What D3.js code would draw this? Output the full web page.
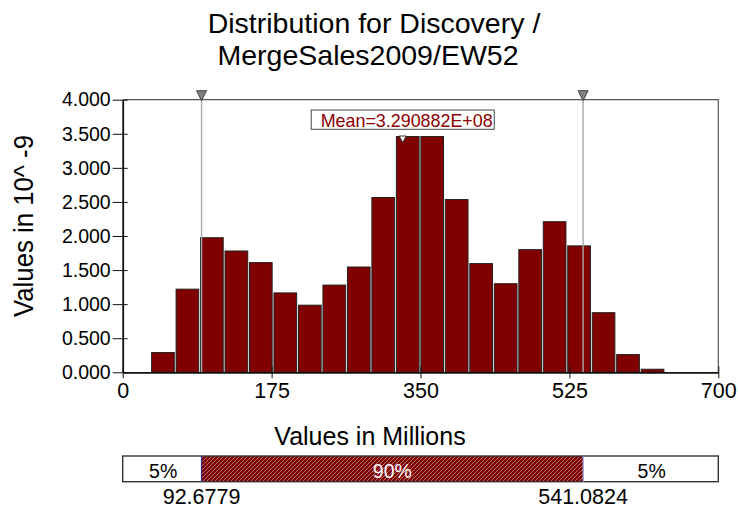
<!DOCTYPE html>
<html>
<head>
<meta charset="utf-8">
<script src="https://cdn.jsdelivr.net/npm/d3@7"></script>
<style>
  html, body { margin: 0; padding: 0; background: #fff; }
  svg { display: block; font-family: "Liberation Sans", Arial, sans-serif; }
</style>
</head>
<body>
<svg id="chart" width="738" height="508"></svg>
<script>
// ---- data ----
const titleLines = ["Distribution for Discovery /", "MergeSales2009/EW52"];
const yAxisTitle = "Values in 10^ -9";
const xAxisTitle = "Values in Millions";
const binEdges = [32.9, 61.7, 90.4, 119.2, 148.0, 176.7, 205.5, 234.3, 263.1, 291.8, 320.6,
                  349.4, 378.1, 406.9, 435.7, 464.5, 493.2, 522.0, 550.8, 579.5, 608.3, 637.1];
const density = [0.29, 1.22, 1.975, 1.78, 1.61, 1.165, 0.985, 1.28, 1.545, 2.565, 3.46,
                 3.46, 2.535, 1.595, 1.30, 1.80, 2.21, 1.855, 0.875, 0.26, 0.045];
const xTicks = [0, 175, 350, 525, 700];
const yTicks = [0, 0.5, 1.0, 1.5, 2.0, 2.5, 3.0, 3.5, 4.0];
const meanValue = 329.0882;
const meanLabel = "Mean=3.290882E+08";
const percentileValues = [92.6779, 541.0824];
const percentileLabels = ["92.6779", "541.0824"];
const bandLabels = ["5%", "90%", "5%"];

// ---- layout ----
const svg = d3.select("#chart");
const plot = {left: 122.7, right: 718.3, top: 99.7, bottom: 372.3};
const x = d3.scaleLinear().domain([0, 700]).range([plot.left, plot.right]);
const y = d3.scaleLinear().domain([0, 4]).range([plot.bottom, plot.top]);
const barColor = "#800000";

// defs: hatch pattern
const defs = svg.append("defs");
const pat = defs.append("pattern").attr("id", "hatch").attr("patternUnits", "userSpaceOnUse")
  .attr("width", 4).attr("height", 4);
pat.append("rect").attr("width", 4).attr("height", 4).attr("fill", barColor);
pat.append("path").attr("d", "M-1,1 l2,-2 M0,4 l4,-4 M3,5 l2,-2")
  .attr("stroke", "#bb9090").attr("stroke-width", 0.8);

// title
svg.append("g").selectAll("text").data(titleLines).join("text")
  .attr("x", (d, i) => i === 0 ? 374 : 368).attr("y", (d, i) => 33 + i * 32)
  .attr("text-anchor", "middle").attr("font-size", 28.5).attr("fill", "#000")
  .text(d => d);

// frame (top & right)
svg.append("path")
  .attr("d", `M${plot.left},${plot.top}H${plot.right}V${plot.bottom}`)
  .attr("fill", "none").attr("stroke", "#555").attr("stroke-width", 1.2);

// bars
const bars = density.map((v, i) => ({x0: binEdges[i], x1: binEdges[i + 1], v}));
svg.append("g").selectAll("rect").data(bars).join("rect")
  .attr("x", d => x(d.x0) + 0.9)
  .attr("width", d => x(d.x1) - x(d.x0) - 1.8)
  .attr("y", d => y(d.v))
  .attr("height", d => y(0) - y(d.v))
  .attr("fill", barColor).attr("stroke", "#222").attr("stroke-width", 1);

// percentile marker lines & triangles
const pm = svg.append("g");
pm.selectAll("line").data(percentileValues).join("line")
  .attr("x1", d => x(d)).attr("x2", d => x(d))
  .attr("y1", plot.top).attr("y2", plot.bottom)
  .attr("stroke", "#aaa").attr("stroke-width", 1.4);
pm.selectAll("path").data(percentileValues).join("path")
  .attr("d", d => `M${x(d) - 5},${plot.top - 9}H${x(d) + 5}L${x(d)},${plot.top + 1}Z`)
  .attr("fill", "#808080").attr("stroke", "#444").attr("stroke-width", 1);

// axes
const yAxis = svg.append("g").attr("transform", `translate(${plot.left},0)`)
  .call(d3.axisLeft(y).tickValues(yTicks).tickFormat(d3.format(".3f")).tickSizeInner(10).tickSizeOuter(0));
yAxis.select(".domain").attr("stroke", "#111").attr("stroke-width", 1.8);
yAxis.selectAll(".tick line").attr("stroke", "#111").attr("x2", -10).attr("x1", 5);
yAxis.selectAll(".tick text").attr("x", -12).attr("font-size", 19.5)
  .attr("font-family", "Liberation Sans, Arial, sans-serif").attr("fill", "#000");

const xAxis = svg.append("g").attr("transform", `translate(0,${plot.bottom})`)
  .call(d3.axisBottom(x).tickValues(xTicks).tickFormat(d3.format("d")).tickSizeInner(6).tickSizeOuter(0));
xAxis.select(".domain").attr("stroke", "#111").attr("stroke-width", 1.8);
xAxis.selectAll(".tick line").attr("stroke", "#111").attr("y1", -6).attr("y2", 6);
xAxis.selectAll(".tick text").attr("y", 10).attr("dy", "0.71em").attr("font-size", 21.5)
  .attr("font-family", "Liberation Sans, Arial, sans-serif").attr("fill", "#000");

// axis titles
svg.append("text").attr("transform", "translate(33,226) rotate(-90)")
  .attr("text-anchor", "middle").attr("font-size", 27).attr("fill", "#000")
  .attr("textLength", 182).attr("lengthAdjust", "spacingAndGlyphs").text(yAxisTitle);
svg.append("text").attr("x", 370).attr("y", 445)
  .attr("text-anchor", "middle").attr("font-size", 25).attr("fill", "#000").text(xAxisTitle);

// mean marker & label
const mx = x(meanValue);
const peakTop = y(d3.max(density));
svg.append("rect").attr("x", mx - 91.5).attr("y", 110).attr("width", 183).attr("height", 19.3)
  .attr("fill", "#fff").attr("stroke", "#444").attr("stroke-width", 1);
svg.append("text").attr("x", mx + 4).attr("y", 127.3).attr("text-anchor", "middle")
  .attr("font-size", 19).attr("fill", "#8b0000")
  .attr("textLength", 172).attr("lengthAdjust", "spacingAndGlyphs").text(meanLabel);
svg.append("path")
  .attr("d", `M${mx - 3.5},${peakTop - 0.5}H${mx + 3.5}L${mx},${peakTop + 6}Z`)
  .attr("fill", "#fff").attr("stroke", "#333").attr("stroke-width", 1);

// bottom percentile band
const bandY = 456, bandH = 25.7;
const bandEdges = [0, percentileValues[0], percentileValues[1], 700];
const band = svg.append("g");
band.selectAll("rect").data(bandLabels).join("rect")
  .attr("x", (d, i) => x(bandEdges[i])).attr("y", bandY)
  .attr("width", (d, i) => x(bandEdges[i + 1]) - x(bandEdges[i])).attr("height", bandH)
  .attr("fill", (d, i) => i === 1 ? "url(#hatch)" : "#fff");
band.append("rect").attr("x", x(0)).attr("y", bandY)
  .attr("width", x(700) - x(0)).attr("height", bandH)
  .attr("fill", "none").attr("stroke", "#333").attr("stroke-width", 1.4);
band.selectAll("line").data(percentileValues).join("line")
  .attr("x1", d => x(d)).attr("x2", d => x(d)).attr("y1", bandY).attr("y2", bandY + bandH)
  .attr("stroke", (d, i) => i === 0 ? "#33338a" : "#8f8fc8").attr("stroke-width", 1.3);
band.selectAll("text.bl").data(bandLabels).join("text").attr("class", "bl")
  .attr("x", (d, i) => (x(bandEdges[i]) + x(bandEdges[i + 1])) / 2 + (i === 1 ? 0 : 1))
  .attr("y", 478).attr("text-anchor", "middle").attr("font-size", 19.5)
  .attr("fill", (d, i) => i === 1 ? "#fff" : "#000").text(d => d);
band.selectAll("text.pv").data(percentileLabels).join("text").attr("class", "pv")
  .attr("x", (d, i) => x(percentileValues[i])).attr("y", 504)
  .attr("text-anchor", "middle").attr("font-size", 21.5).attr("fill", "#000").text(d => d);
</script>
</body>
</html>
